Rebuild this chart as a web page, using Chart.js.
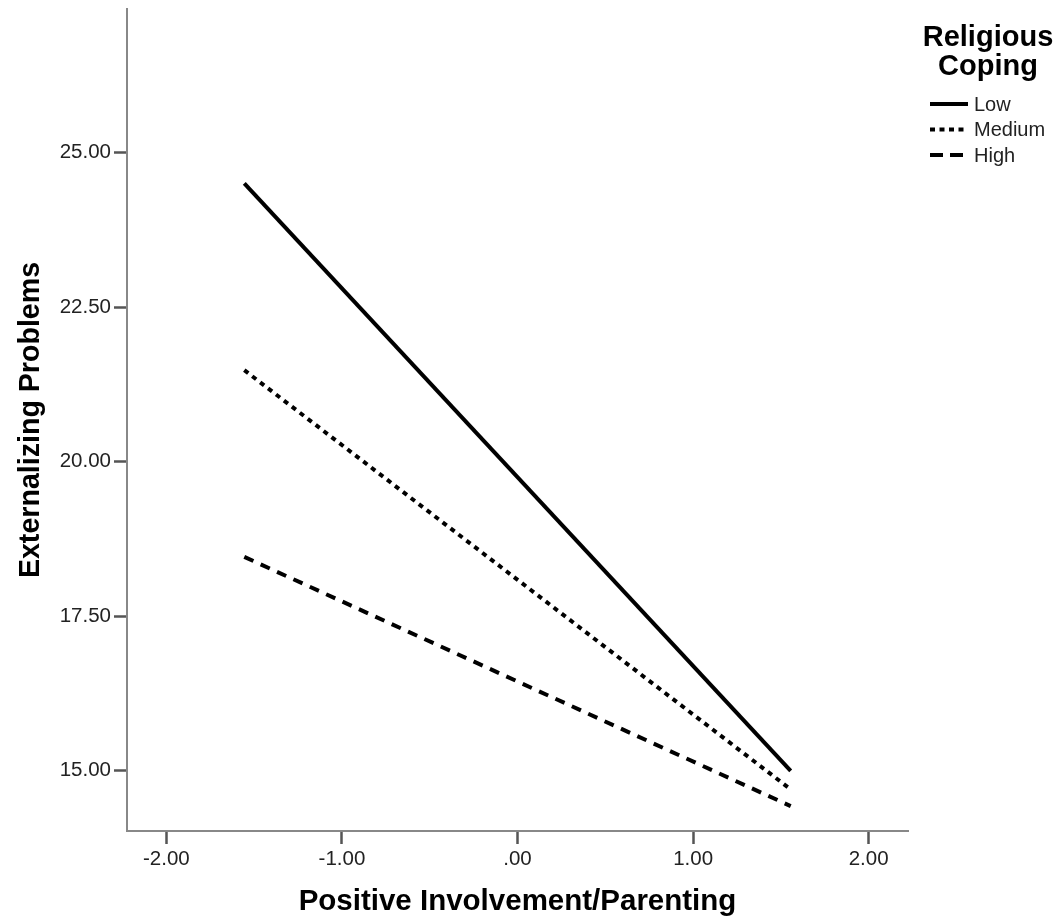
<!DOCTYPE html>
<html>
<head>
<meta charset="utf-8">
<title>Externalizing Problems</title>
<script src="https://cdn.jsdelivr.net/npm/chart.js@4.4.1/dist/chart.umd.min.js"></script>
<style>
  html, body { margin: 0; padding: 0; background: #fff; }
  canvas { display: block; }
</style>
</head>
<body>
<canvas id="chart" width="1062" height="920"></canvas>
<script>
// simple slopes: predictor at -1 SD and +1 SD
const xValues = [-1.556, 1.556];
const lowValues = [24.50, 15.00];
const mediumValues = [21.48, 14.70];
const highValues = [18.46, 14.43];
const groupLabels = ['Low', 'Medium', 'High'];

const xTicks = [-2, -1, 0, 1, 2];
const xTickLabels = ['-2.00', '-1.00', '.00', '1.00', '2.00'];
const yTicks = [15, 17.5, 20, 22.5, 25];
const yTickLabels = ['15.00', '17.50', '20.00', '22.50', '25.00'];

const legendTitle = ['Religious', 'Coping'];
const xTitle = 'Positive Involvement/Parenting';
const yTitle = 'Externalizing Problems';

const FONT = "'Liberation Sans', Arial, sans-serif";

function toPoints(ys) {
    return xValues.map((x, i) => ({ x: x, y: ys[i] }));
}

const dashes = [[], [5, 5], [10, 8]];
const legendDashes = [[], [5, 4.5], [13, 7]];
const seriesValues = [lowValues, mediumValues, highValues];

const datasets = groupLabels.map((label, i) => ({
    label: label,
    data: toPoints(seriesValues[i]),
    borderColor: '#000',
    borderWidth: 4,
    borderDash: dashes[i],
    borderCapStyle: 'butt',
    pointRadius: 0,
    fill: false,
    tension: 0
}));

// legend drawn at the right with a two-line title
const sideLegend = {
    id: 'sideLegend',
    afterDraw(chart) {
        const ctx = chart.ctx;
        ctx.save();
        ctx.fillStyle = '#000';
        ctx.font = 'bold 29px ' + FONT;
        ctx.textAlign = 'center';
        ctx.textBaseline = 'middle';
        ctx.fillText(legendTitle[0], 988, 38);
        ctx.fillText(legendTitle[1], 988, 67);

        chart.data.datasets.forEach((ds, i) => {
            const y = 104 + i * 25.5;
            ctx.beginPath();
            ctx.strokeStyle = ds.borderColor;
            ctx.lineWidth = ds.borderWidth;
            ctx.lineCap = 'butt';
            ctx.setLineDash(legendDashes[i]);
            ctx.moveTo(930, y);
            ctx.lineTo(968, y);
            ctx.stroke();
            ctx.setLineDash([]);
            ctx.fillStyle = '#222';
            ctx.font = '20px ' + FONT;
            ctx.textAlign = 'left';
            ctx.fillText(ds.label, 974, y + 1);
        });
        ctx.restore();
    }
};

new Chart(document.getElementById('chart'), {
    type: 'line',
    data: { datasets: datasets },
    options: {
        responsive: false,
        animation: false,
        layout: { padding: { top: 9, right: 154, left: 0, bottom: 0 } },
        plugins: {
            legend: { display: false },
            tooltip: { enabled: false }
        },
        scales: {
            x: {
                type: 'linear',
                min: -2.224,
                max: 2.224,
                afterBuildTicks: (scale) => { scale.ticks = xTicks.map(v => ({ value: v })); },
                afterFit: (scale) => { scale.height = 89; },
                ticks: {
                    color: '#222',
                    padding: 3,
                    maxRotation: 0,
                    font: { family: FONT, size: 20.5 },
                    callback: (v) => xTickLabels[xTicks.indexOf(v)]
                },
                grid: {
                    drawOnChartArea: false,
                    drawTicks: true,
                    tickLength: 13,
                    tickColor: '#555',
                    tickWidth: 2.5
                },
                border: { display: true, color: '#888', width: 2 },
                title: {
                    display: true,
                    text: xTitle,
                    color: '#000',
                    font: { family: FONT, size: 29.5, weight: 'bold' },
                    padding: { top: 0, bottom: 0 }
                }
            },
            y: {
                type: 'linear',
                min: 14.027,
                max: 27.32,
                afterBuildTicks: (scale) => { scale.ticks = yTicks.map(v => ({ value: v })); },
                afterFit: (scale) => {
                    scale.width = 127;
                    scale.paddingTop = 0;
                    scale.paddingBottom = 0;
                },
                ticks: {
                    color: '#222',
                    padding: 3,
                    font: { family: FONT, size: 20.5 },
                    callback: (v) => yTickLabels[yTicks.indexOf(v)]
                },
                grid: {
                    drawOnChartArea: false,
                    drawTicks: true,
                    tickLength: 13,
                    tickColor: '#555',
                    tickWidth: 2.5
                },
                border: { display: true, color: '#888', width: 2 },
                title: {
                    display: true,
                    text: yTitle,
                    color: '#000',
                    font: { family: FONT, size: 28.6, weight: 'bold' },
                    padding: { top: 14, bottom: 4 }
                }
            }
        }
    },
    plugins: [sideLegend]
});
</script>
</body>
</html>
